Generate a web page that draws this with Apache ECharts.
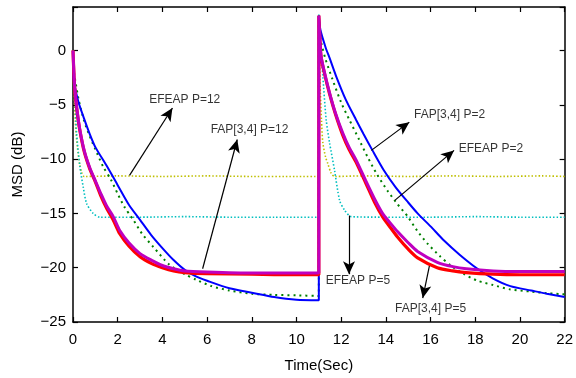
<!DOCTYPE html>
<html>
<head>
<meta charset="utf-8">
<script src="https://cdn.jsdelivr.net/npm/echarts@6/dist/echarts.min.js"></script>
<style>
  html, body { margin: 0; padding: 0; background: #fff; }
  #chart { width: 576px; height: 378px; }
</style>
</head>
<body>
<div id="chart"></div>
<script>
// x axis ticks (seconds) and y axis ticks (dB)
const xTicks = [0, 2, 4, 6, 8, 10, 12, 14, 16, 18, 20, 22];
const yTicks = [-25, -20, -15, -10, -5, 0];

// FAP[3,4] P=2 (blue)
const blueT = [0, 0.05, 0.25, 0.5, 0.75, 1, 1.5, 2, 2.5, 3, 3.5, 4, 4.5, 5, 5.5, 6, 7, 8, 9, 10, 11,
  11, 11.07, 11.3, 11.5, 11.78, 12.2, 12.67, 13, 13.4, 13.9, 14.44, 15, 15.42, 16, 16.6, 17.3, 18.1, 18.8, 19.57, 20.5, 21.2, 22];
const blueV = [-2.2, -3.0, -4.8, -6.3, -7.7, -8.9, -10.6, -12.4, -14.2, -15.6, -17.0, -18.2, -19.3, -20.2, -20.8, -21.2, -21.9, -22.3, -22.7, -22.95, -23.0,
  3.2, 1.9, 0.3, -0.8, -2.4, -4.5, -6.4, -7.7, -9.2, -11.0, -12.6, -14.0, -15.0, -16.2, -17.5, -18.8, -20.1, -21.0, -21.7, -22.1, -22.4, -22.7];

// EFEAP P=2 (green, dotted)
const greenT = [0, 0.25, 0.5, 0.75, 1, 1.35, 1.7, 2, 2.3, 2.7, 3.1, 3.6, 4.3, 5, 5.5, 6.2, 7, 8, 9, 10, 11,
  11, 11.1, 11.3, 11.6, 12, 12.37, 12.8, 13.18, 13.6, 14.07, 14.5, 14.98, 15.4, 15.87, 16.4, 16.9, 17.5, 18.1, 18.8, 19.57, 20.5, 21.2, 22];
const greenV = [-1.5, -4.5, -6.5, -7.9, -9.1, -10.7, -11.9, -13.2, -14.4, -15.6, -16.9, -18.1, -19.7, -20.6, -21.1, -21.7, -22.1, -22.4, -22.5, -22.55, -22.6,
  2.5, 0.8, -0.8, -2.6, -4.8, -6.4, -8.2, -9.8, -11.4, -12.9, -14.1, -15.3, -16.6, -17.8, -18.9, -19.8, -20.6, -21.2, -21.6, -22.0, -22.2, -22.35, -22.45];

// FAP[3,4] P=5 (red)
const redT = [0, 0.05, 0.1, 0.2, 0.3, 0.5, 0.75, 1, 1.25, 1.5, 1.8, 2.1, 2.5, 3, 3.5, 4, 4.5, 5, 6, 8, 10, 11,
  11, 11.05, 11.1, 11.25, 11.48, 11.75, 12.07, 12.35, 12.67, 13.1, 13.5, 13.85, 14.2, 14.53, 15, 15.42, 16.3, 17, 17.6, 18.8, 20, 22];
const redV = [0, -2.6, -4.1, -5.9, -7.3, -9.3, -10.9, -12.1, -13.4, -14.5, -15.6, -16.9, -18.0, -19.0, -19.6, -20.0, -20.3, -20.45, -20.55, -20.6, -20.65, -20.65,
  3.2, 0.9, -0.6, -2.1, -4.0, -5.9, -7.8, -9.1, -10.3, -12.2, -14.0, -15.3, -16.3, -17.2, -18.3, -19.1, -20.0, -20.3, -20.45, -20.6, -20.65, -20.65];

// FAP[3,4] P=12 (magenta)
const magT = [0, 0.05, 0.1, 0.2, 0.3, 0.5, 0.75, 1, 1.25, 1.5, 1.8, 2.1, 2.5, 3, 3.5, 4, 4.5, 5, 6, 8, 10, 11,
  11, 11.05, 11.1, 11.25, 11.48, 11.75, 12.07, 12.35, 12.67, 13.1, 13.5, 13.85, 14.2, 14.53, 15, 15.42, 16.3, 17, 17.6, 18.8, 20, 22];
const magV = [0, -2.5, -4.0, -5.8, -7.2, -9.2, -10.8, -12.0, -13.2, -14.3, -15.3, -16.6, -17.7, -18.7, -19.3, -19.8, -20.1, -20.3, -20.4, -20.5, -20.5, -20.5,
  3.2, 1.0, -0.5, -2.0, -3.9, -5.8, -7.6, -8.9, -10.1, -12.0, -13.7, -15.0, -15.9, -16.7, -17.7, -18.5, -19.5, -19.9, -20.1, -20.3, -20.35, -20.35];

// EFEAP P=12 (yellow, dotted)
const yellowT = [0, 0.05, 0.1, 0.2, 0.3, 0.4, 0.5, 2, 4, 6, 8, 10, 11,
  11, 11.03, 11.07, 11.12, 11.18, 11.3, 11.4, 11.55, 11.7, 13, 15, 17, 19, 21, 22];
const yellowV = [0, -3, -6.5, -9, -10.5, -11.3, -11.6, -11.55, -11.6, -11.55, -11.6, -11.6, -11.6,
  3.3, 0, -3.9, -6.5, -8.5, -9.8, -10.4, -11.3, -11.6, -11.55, -11.6, -11.55, -11.6, -11.55, -11.6];

// EFEAP P=5 (cyan, dotted)
const cyanT = [0, 0.08, 0.16, 0.31, 0.46, 0.61, 0.9, 1.2, 3, 5, 7, 9, 11,
  11, 11.08, 11.18, 11.33, 11.48, 11.7, 11.93, 12.15, 12.45, 14, 16, 18, 20, 22];
const cyanV = [0, -4, -7.6, -10.7, -12.6, -14.1, -15.0, -15.35, -15.35, -15.3, -15.35, -15.35, -15.35,
  3.3, 0.5, -2.4, -6.4, -8.5, -11.0, -13.8, -14.7, -15.3, -15.35, -15.35, -15.3, -15.35, -15.35];

// annotation texts, label centres and arrows (data coordinates)
const annoText = ['EFEAP P=12', 'FAP[3,4] P=12', 'FAP[3,4] P=2', 'EFEAP P=2', 'EFEAP P=5', 'FAP[3,4] P=5'];
const annoAt = [[5.0, -4.5], [7.9, -7.3], [16.85, -5.9], [18.7, -9.0], [12.75, -21.2], [16.0, -23.8]];
const arrowFrom = [[2.53, -11.5], [5.8, -20.1], [13.35, -9.2], [14.4, -13.8], [12.35, -15.2], [15.95, -19.8]];
const arrowTo = [[4.45, -5.3], [7.35, -8.2], [15.05, -6.6], [17.05, -9.2], [12.35, -20.6], [15.65, -22.8]];

const pairs = (t, v) => t.map((x, i) => [x, v[i]]);
const fontFamily = 'Liberation Sans, Arial, sans-serif';
const minus = (v) => String(v).replace('-', '\u2212');

const chart = echarts.init(document.getElementById('chart'));

const baseX = {
  type: 'value', min: 0, max: 22, interval: 2,
  axisLine: { onZero: false, lineStyle: { color: '#000', width: 1.5 } },
  axisTick: { inside: true, length: 5, lineStyle: { color: '#000', width: 1.2 } },
  splitLine: { show: false }
};
const baseY = {
  type: 'value', min: -25, max: 4, interval: 5,
  axisLine: { show: true, onZero: false, lineStyle: { color: '#000', width: 1.5 } },
  axisTick: { inside: true, length: 5, lineStyle: { color: '#000', width: 1.2 } },
  splitLine: { show: false }
};

function lineSeries(name, t, v, color, width, type, z) {
  return {
    name, type: 'line', data: pairs(t, v), showSymbol: false, symbol: 'none',
    smooth: 0.25,
    lineStyle: { color, width, type }, z, animation: false
  };
}

const option = {
  animation: false,
  grid: { left: 73, right: 8, top: 7, bottom: 56 },
  xAxis: [
    Object.assign({}, baseX, {
      position: 'bottom',
      name: 'Time(Sec)', nameLocation: 'middle', nameGap: 36,
      nameTextStyle: { fontSize: 15, color: '#000', fontFamily },
      axisLabel: {
        fontSize: 15, color: '#000', fontFamily, margin: 10,
        formatter: (v) => (xTicks.includes(v) ? String(v) : '')
      }
    }),
    Object.assign({}, baseX, { position: 'top', axisLabel: { show: false } })
  ],
  yAxis: [
    Object.assign({}, baseY, {
      position: 'left',
      name: 'MSD (dB)', nameLocation: 'middle', nameGap: 48, nameRotate: 90,
      nameTextStyle: { fontSize: 15, color: '#000', fontFamily },
      axisLabel: {
        fontSize: 15, color: '#000', fontFamily, margin: 7,
        formatter: (v) => (yTicks.includes(v) ? minus(v) : '')
      }
    }),
    Object.assign({}, baseY, { position: 'right', axisLabel: { show: false } })
  ],
  series: [
    lineSeries('EFEAP P=12', yellowT, yellowV, '#bfbf00', 1.6, [1.5, 2], 2),
    lineSeries('EFEAP P=5', cyanT, cyanV, '#00bfbf', 1.6, [1.5, 2], 2),
    lineSeries('EFEAP P=2', greenT, greenV, '#008000', 2, [2, 4], 3),
    lineSeries('FAP[3,4] P=2', blueT, blueV, '#0000ff', 2, 'solid', 4),
    lineSeries('FAP[3,4] P=5', redT, redV, '#ff0000', 3.2, 'solid', 5),
    lineSeries('FAP[3,4] P=12', magT, magV, '#bf00bf', 3, 'solid', 6),
    {
      name: 'annotations', type: 'scatter', symbolSize: 0, z: 10,
      data: annoText.map((s, i) => ({ name: s, value: annoAt[i] })),
      label: {
        show: true, position: 'inside', formatter: (p) => p.name,
        color: '#000', fontSize: 12, fontFamily
      },
      markLine: {
        silent: true, symbol: ['none', 'arrow'], symbolSize: [9, 13],
        lineStyle: { color: '#000', width: 1.2, type: 'solid' },
        label: { show: false },
        data: arrowFrom.map((a, i) => [{ coord: a }, { coord: arrowTo[i] }])
      }
    }
  ]
};

chart.setOption(option);
</script>
</body>
</html>
